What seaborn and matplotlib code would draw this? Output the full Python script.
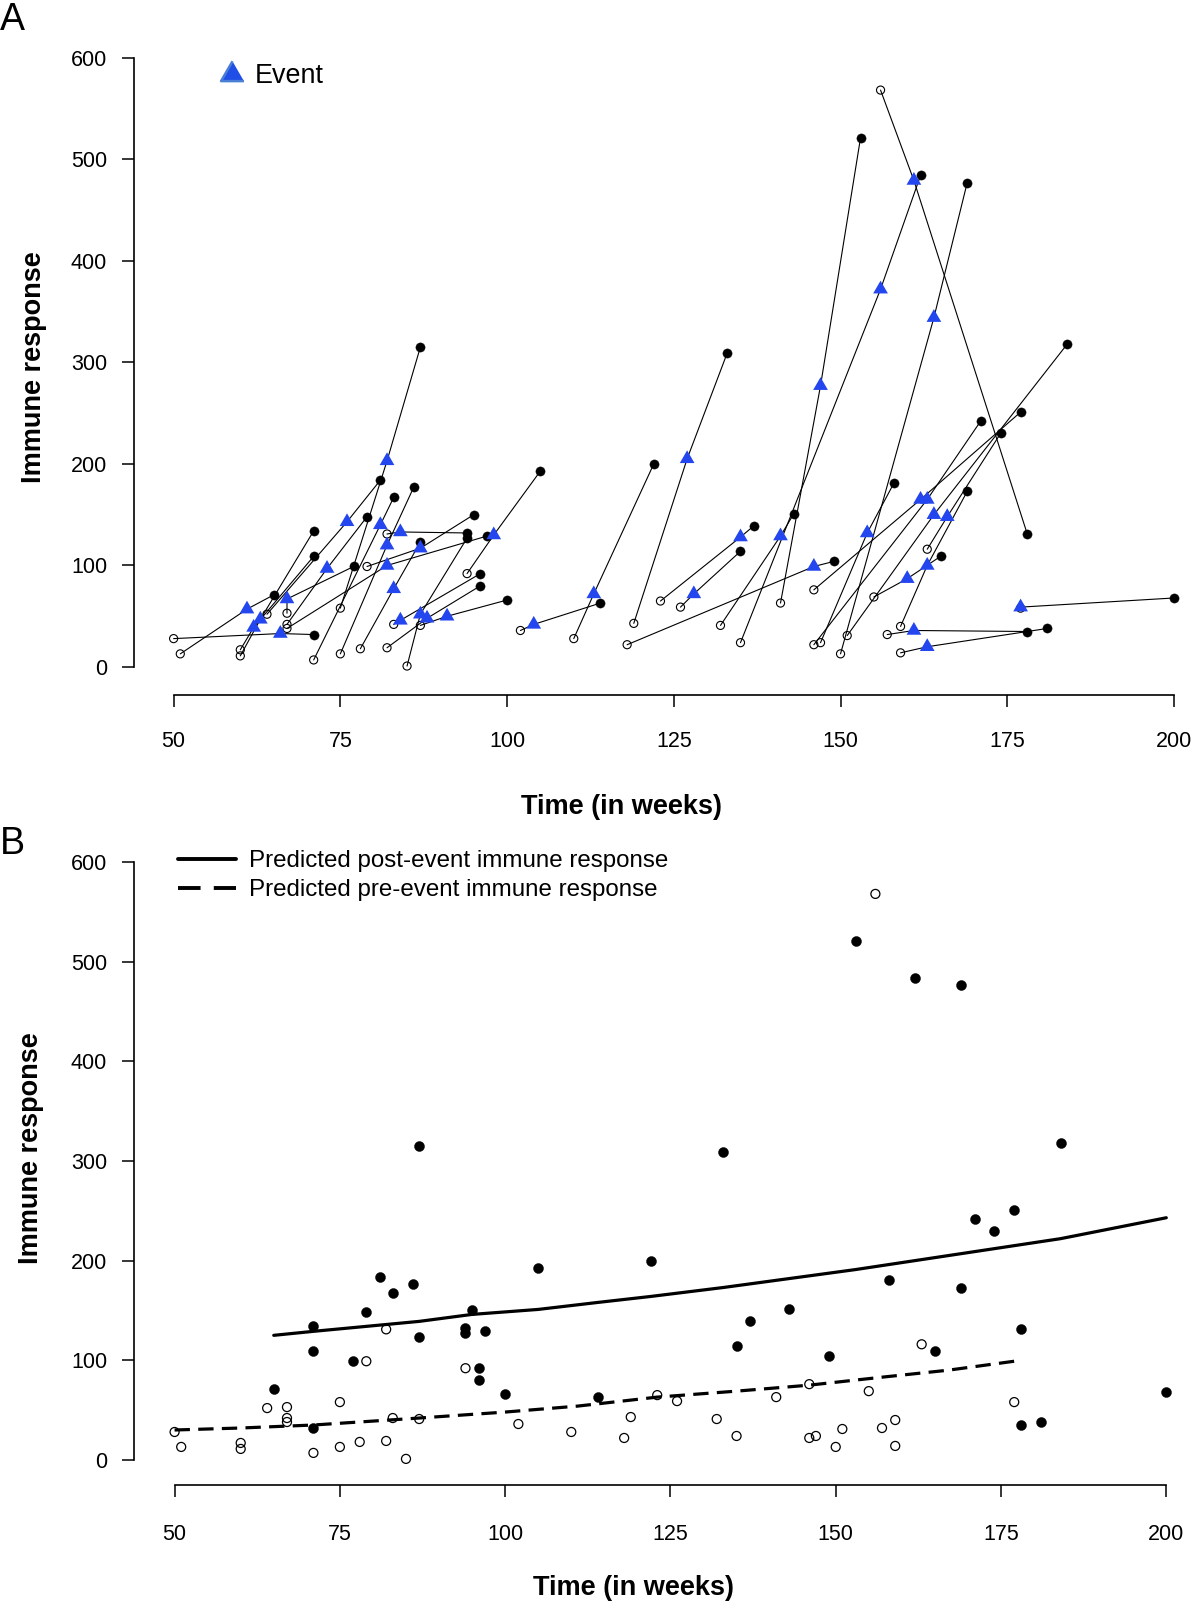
import numpy as np
import pandas as pd
import matplotlib
matplotlib.use("Agg")
import matplotlib.pyplot as plt
from matplotlib.lines import Line2D
from matplotlib.markers import MarkerStyle
import seaborn as sns

# ---- data ----
pre_time = [50, 51, 60, 60, 64, 67, 67, 67, 71, 75, 75, 78, 79, 82, 82, 83, 85, 87, 94, 102,
            110, 118, 119, 123, 126, 132, 135, 141, 146, 146, 147, 150, 151, 155, 156, 157, 159, 159, 163, 177]
pre_value = [28, 13, 11, 17, 52, 53, 42, 38, 7, 58, 13, 18, 99, 131, 19, 42, 1, 41, 92, 36,
             28, 22, 43, 65, 59, 41, 24, 63, 76, 22, 24, 13, 31, 69, 568, 32, 40, 14, 116, 58]
event_time = [66, 61, 63, 62, 76, 67, 73, 82, 81, 82, 82, 83, 87, 84, 88, 84, 87, 91, 98, 104,
              113, 146, 127, 135, 128, 141, 156, 147, 162, 163, 154, 164, 164, 160, 161, 161, 163, 163, 166, 177]
event_value = [33, 57, 47, 39, 143, 67, 97, 100, 140, 203, 120, 77, 117, 133, 48, 46, 52, 50, 130, 42,
               72, 99, 205, 128, 72, 129, 372, 277, 165, 165, 132, 344, 150, 87, 479, 36, 100, 20, 148, 59]
post_time = [71, 65, 71, 71, 81, 77, 79, 97, 83, 87, 86, 87, 95, 94, 96, 96, 94, 100, 105, 114,
             122, 149, 133, 137, 135, 143, 162, 153, 177, 171, 158, 169, 184, 165, 178, 178, 169, 181, 174, 200]
post_value = [32, 71, 134, 109, 184, 99, 148, 129, 167, 315, 177, 123, 150, 132, 80, 92, 127, 66, 193, 63,
              200, 104, 309, 139, 114, 151, 484, 521, 251, 242, 181, 477, 318, 109, 131, 35, 173, 38, 230, 68]

post_fit_time = [65, 71, 79, 87, 95, 105, 114, 122, 133, 143, 153, 162, 171, 178, 184, 200]
post_fit_value = [125, 129, 134, 139, 146, 151, 158, 164, 173, 182, 191, 200, 209, 216, 222, 243]
pre_fit_time = [50, 60, 71, 87, 100, 111, 123, 135, 146, 157, 167, 177]
pre_fit_value = [30, 32, 35, 42, 48, 54, 63, 69, 75, 83, 90, 99]

x_ticks = [50, 75, 100, 125, 150, 175, 200]
y_ticks = [0, 100, 200, 300, 400, 500, 600]

legend_a = ["Event"]
legend_b = ["Predicted post-event immune response", "Predicted pre-event immune response"]

# ---- style ----
sns.set_theme(style="ticks", rc={
    "text.color": "black", "axes.labelcolor": "black", "axes.edgecolor": "black",
    "xtick.color": "black", "ytick.color": "black"})
plt.rcParams['font.family'] = ['Liberation Sans', 'DejaVu Sans']

W, H = 1200, 1611
fig = plt.figure(figsize=(W / 100, H / 100), dpi=100)
axA = fig.add_axes([133.6 / W, 1 - 695.5 / H, 1 - 133.6 / W, (695.5 - 33.2) / H])
axB = fig.add_axes([133.6 / W, 1 - 1484.6 / H, 1 - 133.6 / W, (1484.6 - 838.1) / H])

tri = MarkerStyle([(0, 1), (-0.866, -0.5), (0.866, -0.5)])
blue = '#2346EE'

# ---- panel A ----
n = len(pre_time)
long = pd.DataFrame({
    'subject': np.repeat(np.arange(n), 3),
    'time': np.column_stack([pre_time, event_time, post_time]).ravel(),
    'value': np.column_stack([pre_value, event_value, post_value]).ravel(),
})
sns.lineplot(data=long, x='time', y='value', units='subject', estimator=None, sort=False,
             color='black', lw=0.8, ax=axA, legend=False)

sns.scatterplot(x=pre_time, y=pre_value, ax=axA, marker='o', s=34, linewidth=0.8,
                edgecolor='black', zorder=3, legend=False)
axA.collections[-1].set_facecolor('none')
axA.collections[-1].set_edgecolor('black')
sns.scatterplot(x=post_time, y=post_value, ax=axA, marker='o', s=44, color='black',
                edgecolor='black', linewidth=0.3, zorder=3, legend=False)
sns.scatterplot(x=event_time, y=event_value, ax=axA, marker=tri, s=150, color=blue,
                edgecolor='none', linewidth=0, zorder=4, legend=False)

h_event = Line2D([], [], marker=tri, linestyle='none', markersize=19,
                 markerfacecolor='#1f4fe6', markeredgecolor='#4a7fd6', markeredgewidth=1.8)
axA.legend(handles=[h_event], labels=legend_a, loc='upper left',
           bbox_to_anchor=(218.5 / W, 1 - 63 / H), bbox_transform=fig.transFigure,
           frameon=False, fontsize=19.4, handlelength=1.0, handletextpad=0.35,
           borderpad=0, borderaxespad=0)

# ---- panel B ----
sns.scatterplot(x=pre_time, y=pre_value, ax=axB, marker='o', s=42, linewidth=0.9,
                edgecolor='black', zorder=3, legend=False)
axB.collections[-1].set_facecolor('none')
axB.collections[-1].set_edgecolor('black')
sns.scatterplot(x=post_time, y=post_value, ax=axB, marker='o', s=52, color='black',
                edgecolor='black', linewidth=0.3, zorder=3, legend=False)
sns.lineplot(x=post_fit_time, y=post_fit_value, ax=axB, color='black', lw=2.3,
             estimator=None, legend=False)
sns.lineplot(x=pre_fit_time, y=pre_fit_value, ax=axB, color='black', lw=2.3,
             estimator=None, legend=False)
axB.lines[-1].set_linestyle((0, (4.8, 2.6)))

h_post = Line2D([], [], color='black', lw=2.8)
h_pre = Line2D([], [], color='black', lw=2.8, linestyle=(0, (5.8, 3.4)))
axB.legend(handles=[h_post, h_pre], labels=legend_b, loc='upper left',
           bbox_to_anchor=(177.7 / W, 1 - 850 / H), bbox_transform=fig.transFigure,
           frameon=False, fontsize=17.4, handlelength=2.42, handletextpad=0.51,
           labelspacing=0.3, borderpad=0, borderaxespad=0)

# ---- axes styling (R-like detached axes) ----
for ax, ylim, xlim, xpad, ylab_xy, xlab_xy in [
        (axA, (-28, 624), (44, 203.9), 17, (-0.0934, 0.496), (0.4576, -0.1676)),
        (axB, (-24.8, 624), (43.8, 205.1), 20, (-0.0964, 0.52), (0.469, -0.1604))]:
    ax.set_xlim(*xlim)
    ax.set_ylim(*ylim)
    ax.set_xticks(x_ticks)
    ax.set_yticks(y_ticks)
    ax.set_xticklabels([str(t) for t in x_ticks])
    ax.set_yticklabels([str(t) for t in y_ticks])
    sns.despine(ax=ax)
    ax.spines['left'].set_bounds(0, 600)
    ax.spines['bottom'].set_bounds(50, 200)
    for s in ('left', 'bottom'):
        ax.spines[s].set_linewidth(1.2)
        ax.spines[s].set_color('black')
    ax.tick_params(axis='both', direction='out', length=8.6, width=1.1, labelsize=15.5)
    ax.tick_params(axis='y', pad=10.5)
    ax.tick_params(axis='x', pad=xpad)
    ax.set_ylabel('Immune response', fontsize=19.5, fontweight='bold')
    ax.set_xlabel('Time (in weeks)', fontsize=19.5, fontweight='bold')
    ax.yaxis.label.set_va('center')
    ax.xaxis.label.set_va('center')
    ax.yaxis.set_label_coords(*ylab_xy)
    ax.xaxis.set_label_coords(*xlab_xy)
    ax.grid(False)

fig.text(12.3 / W, 1 - 20.5 / H, 'A', fontsize=27, ha='center', va='center')
fig.text(12.3 / W, 1 - 844.5 / H, 'B', fontsize=27, ha='center', va='center')

fig.savefig('out.png', dpi=100)
